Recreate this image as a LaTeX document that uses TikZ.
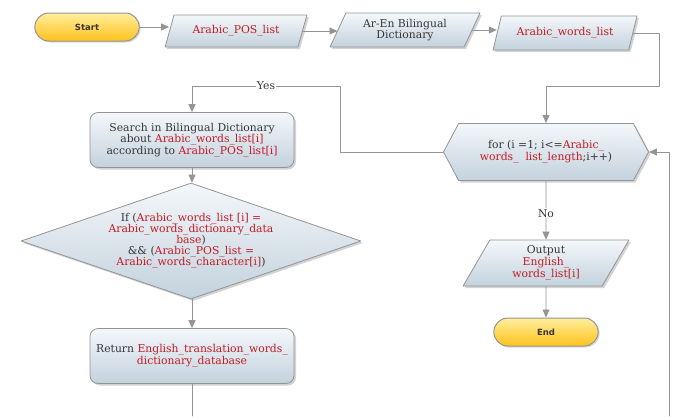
\documentclass[tikz,border=0pt]{standalone}
\usepackage{fontspec}
\setmainfont{DejaVu Serif}
\newfontfamily\pillfont{DejaVu Sans}
\usetikzlibrary{shapes.geometric,shapes.misc,shapes.symbols,shadows,arrows.meta}
\definecolor{txtgray}{HTML}{363636}
\definecolor{txtred}{HTML}{C41A24}
\definecolor{boxtop}{HTML}{F4F7FA}
\definecolor{boxbot}{HTML}{C3D2DD}
\definecolor{edgegray}{HTML}{949494}
\definecolor{pilltop}{HTML}{FFEE9E}
\definecolor{pillbot}{HTML}{FFC21A}
\newcommand{\rd}[1]{\textcolor{txtred}{#1}}

\begin{document}
\begin{tikzpicture}[x=1pt, y=-1pt, line cap=round, line join=round,
    font=\fontsize{10.8}{11.8}\selectfont, text=txtgray,
    box/.style={draw=edgegray, line width=0.8pt, top color=boxtop, bottom color=boxbot,
        drop shadow={shadow xshift=2pt, shadow yshift=-2pt, opacity=0.35},
        align=center, inner sep=2pt},
    io/.style={box, trapezium, trapezium left angle=66, trapezium right angle=114,
        trapezium stretches=true},
    proc/.style={box, rounded corners=8pt, minimum width=204, minimum height=55},
    pill/.style={rounded rectangle, draw=edgegray, line width=1pt, top color=pilltop,
        bottom color=pillbot, drop shadow={shadow xshift=1.5pt, shadow yshift=-1.5pt, opacity=0.3},
        minimum width=111, minimum height=28, font=\pillfont\bfseries\fontsize{8.5}{10}\selectfont},
    conn/.style={draw=edgegray, line width=0.8pt, -{Triangle[length=8pt, width=7pt]}},
    wire/.style={draw=edgegray, line width=0.8pt},
    tag/.style={fill=white, inner sep=1pt}]

    \useasboundingbox (0,0) rectangle (676,416);

    \node[pill] (start) at (87,27) {Start};
    \node[io, minimum width=142, minimum height=32] (poslist) at (236,31) {\rd{Arabic\_POS\_list}};
    \node[io, minimum width=150, minimum height=34] (dict) at (405,30) {Ar-En Bilingual\\Dictionary};
    \node[io, minimum width=144, minimum height=34] (wordslist) at (565,33) {\rd{Arabic\_words\_list}};

    \node[box, signal, signal to=west and east, signal pointer angle=124,
        minimum width=205, minimum height=57] (loop) at (546,152)
        {for (i =1; i<=\rd{Arabic\_}\\\rd{words\_\ \ list\_length};i++)};

    \node[io, minimum width=166, minimum height=46] (output) at (546,263)
        {Output\\\rd{English\_}\\\rd{words\_list[i]}};
    \node[pill] (end) at (546,332) {End};

    \node[proc] (search) at (192,140)
        {Search in Bilingual Dictionary\\about \rd{Arabic\_words\_list[i]}\\according to \rd{Arabic\_POS\_list[i]}};
    \node[box, diamond, minimum width=340, minimum height=116] (cond) at (191,241) {};
    \node[align=center, font=\fontsize{10.8}{11}\selectfont] (condtext) at (cond)
        {If (\rd{Arabic\_words\_list [i] =}\\\rd{Arabic\_words\_dictionary\_data}\\\rd{base})\\
         \&\& (\rd{Arabic\_POS\_list =}\\\rd{Arabic\_words\_character[i]})};
    \node[proc] (ret) at (192,356)
        {Return \rd{English\_translation\_words\_}\\\rd{dictionary\_database}};

    \coordinate (bendA) at (659,86);
    \coordinate (bendB) at (340,86);
    \coordinate (botL) at (192,416);
    \coordinate (botR) at (669,416);

    \draw[conn] (start.east) -- (start.east -| poslist.west);
    \draw[conn] (poslist.east) -- (poslist.east -| dict.west);
    \draw[conn] (dict.east) -- (dict.east -| wordslist.west);
    \draw[conn] (wordslist.east) -| (bendA) -| (loop.north);

    \draw[conn] (loop.west) -| (bendB) -| node[tag, pos=0.25] {Yes} (search.north);
    \draw[conn] (search.south) -- (search.south |- cond.north);
    \draw[conn] (cond.south -| ret.north) -- (ret.north);
    \draw[wire] (ret) -- (botL);

    \draw[conn] (loop) -- node[tag, pos=0.55] {No} (output);
    \draw[conn] (output) -- (end);
    \draw[conn] (botR) |- (loop.east);

\end{tikzpicture}
\end{document}
